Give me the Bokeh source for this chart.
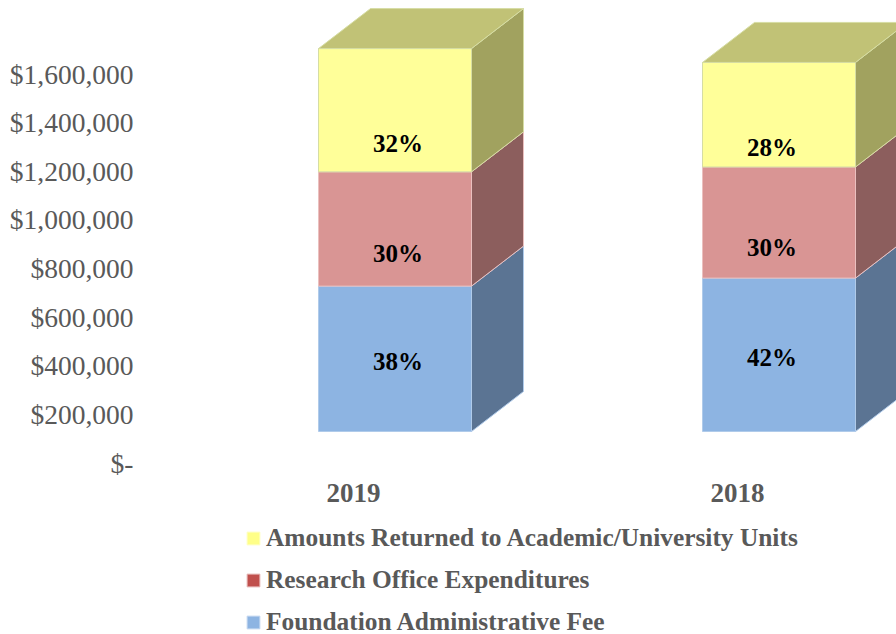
from bokeh.plotting import figure
from bokeh.models import FixedTicker, Legend, LegendItem, Range1d
from bokeh.core.properties import value
from bokeh.embed import file_html
from bokeh.resources import INLINE

# ---------------- data ----------------
categories = ["2019", "2018"]
series_names = ["Foundation Administrative Fee",
                "Research Office Expenditures",
                "Amounts Returned to Academic/University Units"]
foundation_fee = [598000, 631000]
research_office = [470000, 457000]
amounts_returned = [507000, 430000]
y_ticks = [0, 200000, 400000, 600000, 800000, 1000000, 1200000, 1400000, 1600000]

series_values = [foundation_fee, research_office, amounts_returned]

# ---------------- style ----------------
front_colors = ["#8DB4E2", "#D99594", "#FFFF99"]
side_colors = ["#5B7493", "#8C5E5D", "#A1A25F"]
top_colors = ["#9DBEE6", "#DDA2A1", "#C1C276"]
edge_colors = ["#B0CBEA", "#EBC0BF", "#D6DDA4"]
legend_colors = ["#8DB4E2", "#C0504D", "#FFFF88"]
legend_edges = ["#C6D9F0", "#E6B9B8", "#FFFFC0"]
label_dy = [3, 25, 33]          # pixel nudges of the % labels per series
label_dx = [3, -7]              # pixel nudges of the % labels per category
grey = "#595959"
serif = "Liberation Serif"

W, H = 896, 634
frame_left = 140
px_per_unit_y = 389 / 1.6e6
zero_px = 462.5                   # pixel row of the $- tick
x0_px, px_per_cat = 394.5, 384.0

y_start = -(H - zero_px) / px_per_unit_y
y_end = zero_px / px_per_unit_y
x_start = (frame_left - x0_px) / px_per_cat
x_end = (W - x0_px) / px_per_cat

BAR_W = 153 / px_per_cat
DX = 52 / px_per_cat              # 3D depth, horizontal
DY = 40 / px_per_unit_y           # 3D depth, vertical
LIFT = 31.5 / px_per_unit_y       # floor offset of the front faces

p = figure(width=W, height=H, output_backend="svg", toolbar_location=None,
           x_range=Range1d(x_start, x_end), y_range=Range1d(y_start, y_end),
           x_axis_location=None, min_border_left=frame_left, min_border_right=0,
           min_border_top=0, min_border_bottom=0)
p.outline_line_color = None
p.xgrid.visible = False
p.ygrid.visible = False
p.background_fill_color = "white"
p.border_fill_color = "white"

# ---------------- 3D stacked bars ----------------
for i, cat in enumerate(categories):
    total = sum(s[i] for s in series_values)
    base = 0.0
    for s, vals in enumerate(series_values):
        v = vals[i]
        y0 = base + LIFT
        y1 = base + v + LIFT
        xl = i - BAR_W / 2
        xr = i + BAR_W / 2
        # side face
        p.patch([xr, xr + DX, xr + DX, xr], [y0, y0 + DY, y1 + DY, y1],
                fill_color=side_colors[s], line_color=edge_colors[s], line_width=1)
        # front face
        p.quad(left=[xl], right=[xr], bottom=[y0], top=[y1],
               fill_color=front_colors[s], line_color=edge_colors[s], line_width=1)
        # top face on the topmost segment
        if s == len(series_values) - 1:
            p.patch([xl, xr, xr + DX, xl + DX], [y1, y1, y1 + DY, y1 + DY],
                    fill_color=top_colors[s], line_color=edge_colors[s], line_width=1)
        # percent label
        pct = round(100 * v / total)
        p.text(x=[i], y=[(y0 + y1) / 2], text=[f"{pct}%"],
               x_offset=label_dx[i], y_offset=label_dy[s],
               text_font=value(serif), text_font_style="bold",
               text_font_size="25px", text_color="black",
               text_align="center", text_baseline="middle")
        base += v

# category labels
p.text(x=list(range(len(categories))), y=[0] * len(categories), text=categories,
       x_offset=-41.5, y_offset=29.5, text_font=value(serif), text_font_style="bold",
       text_font_size="27px", text_color=grey, text_align="center",
       text_baseline="middle")

# ---------------- y axis ----------------
ax = p.yaxis[0]
ax.ticker = FixedTicker(ticks=y_ticks)
ax.major_label_overrides = {t: ("$-" if t == 0 else f"${t:,}") for t in y_ticks}
ax.axis_line_color = None
ax.major_tick_line_color = None
ax.minor_tick_line_color = None
ax.major_tick_out = 0
ax.major_tick_in = 0
ax.major_label_standoff = 7
ax.major_label_text_font = serif
ax.major_label_text_font_size = "27.5px"
ax.major_label_text_color = grey

# ---------------- legend ----------------
nan = float("nan")
items = []
for s in reversed(range(len(series_names))):
    r = p.quad(left=[nan], right=[nan], bottom=[nan], top=[nan],
               fill_color=legend_colors[s], line_color=legend_edges[s])
    items.append(LegendItem(label=series_names[s], renderers=[r]))

legend = Legend(items=items, location=(105, -2), orientation="vertical",
                glyph_width=16, glyph_height=16, label_standoff=5,
                label_height=29, spacing=13, padding=0, margin=0,
                border_line_alpha=0, background_fill_alpha=0,
                label_text_font=serif, label_text_font_style="bold",
                label_text_font_size="25.4px", label_text_color=grey)
p.add_layout(legend)

open("out.html", "w").write(file_html(p, INLINE))
